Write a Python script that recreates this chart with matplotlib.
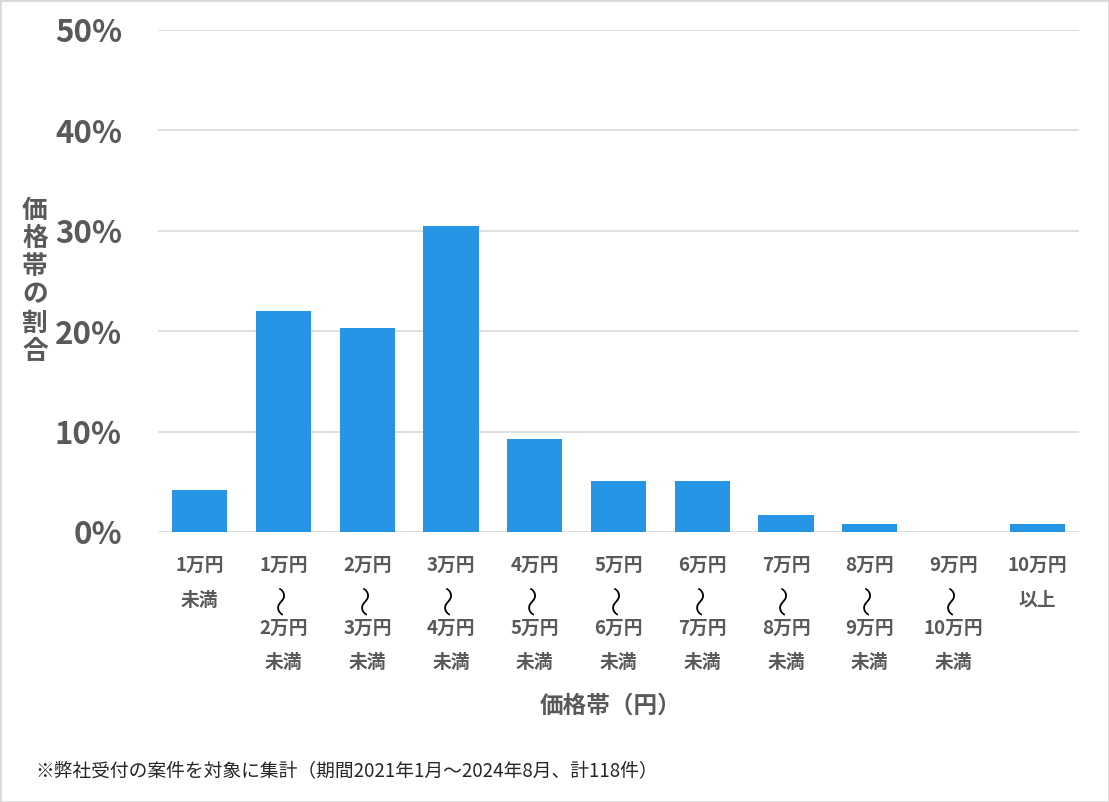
import matplotlib.pyplot as plt
import matplotlib.transforms as mtransforms
from matplotlib.patches import Rectangle

plt.rcParams['font.family'] = ['Noto Sans CJK JP', 'DejaVu Sans']

# ----------
#  DATA
# ----------
price_labels = [
    "1万円\n未満",
    "1万円\n～\n2万円\n未満",
    "2万円\n～\n3万円\n未満",
    "3万円\n～\n4万円\n未満",
    "4万円\n～\n5万円\n未満",
    "5万円\n～\n6万円\n未満",
    "6万円\n～\n7万円\n未満",
    "7万円\n～\n8万円\n未満",
    "8万円\n～\n9万円\n未満",
    "9万円\n～\n10万円\n未満",
    "10万円\n以上",
]
share_pct = [4.2, 22.0, 20.3, 30.5, 9.3, 5.1, 5.1, 1.7, 0.8, 0.0, 0.8]
y_ticks = [0, 10, 20, 30, 40, 50]
y_tick_labels = ["0%", "10%", "20%", "30%", "40%", "50%"]

# ----------
#  CONFIG
# ----------
bar_color = "#2695E6"
text_gray = "#595959"
grid_gray = "#D9D9D9"
W, H = 1109, 802

fig = plt.figure(figsize=(W / 100, H / 100), dpi=100)
ax = fig.add_axes([158 / W, 1 - 532 / H, (1079 - 158) / W, (532 - 30) / H])

x = list(range(len(share_pct)))
ax.bar(x, share_pct, width=0.66, color=bar_color, zorder=3)
ax.set_xlim(-0.5, len(share_pct) - 0.5)
ax.set_ylim(0, 50)

ax.set_yticks(y_ticks)
ax.set_yticklabels(y_tick_labels, fontsize=22.5, fontweight="bold", color=text_gray)
ax.tick_params(axis="y", length=0, pad=26)
ax.yaxis.grid(True, color=grid_gray, linewidth=1.2, zorder=0)
ax.set_xticks(x)
ax.set_xticklabels([])
ax.tick_params(axis="x", length=0)
for s in ["top", "right", "left", "bottom"]:
    ax.spines[s].set_visible(False)

# multi-line category labels
trans = mtransforms.blended_transform_factory(ax.transData, fig.transFigure)
row_y = [565, 600, 628, 662]
for i, label in enumerate(price_labels):
    for r, line in enumerate(label.split("\n")):
        if line == "～":
            ax.text(i, 1 - row_y[r] / H, "〜", transform=trans, rotation=90,
                    ha="center", va="center", fontsize=22, color="black",
                    fontweight="light")
        else:
            ax.text(i, 1 - row_y[r] / H, line, transform=trans,
                    ha="center", va="center", fontsize=13.5,
                    fontweight="bold", color=text_gray)

fig.text(611 / W, 1 - 706 / H, "価格帯（円）", ha="center", va="center",
         fontsize=17, fontweight="bold", color=text_gray)
fig.text(35 / W, 1 - 281 / H, "\n".join("価格帯の割合"), ha="center",
         va="center", fontsize=18.5, fontweight="bold", color=text_gray,
         linespacing=1.06)
fig.text(35 / W, 1 - 771 / H,
         "※弊社受付の案件を対象に集計（期間2021年1月～2024年8月、計118件）",
         ha="left", va="center", fontsize=13.5, color="#262626")

fig.patches.append(Rectangle((0, 0), 1, 1, transform=fig.transFigure,
                             fill=False, edgecolor="#D9D9D9", linewidth=2))

fig.savefig("out.png", dpi=100)
